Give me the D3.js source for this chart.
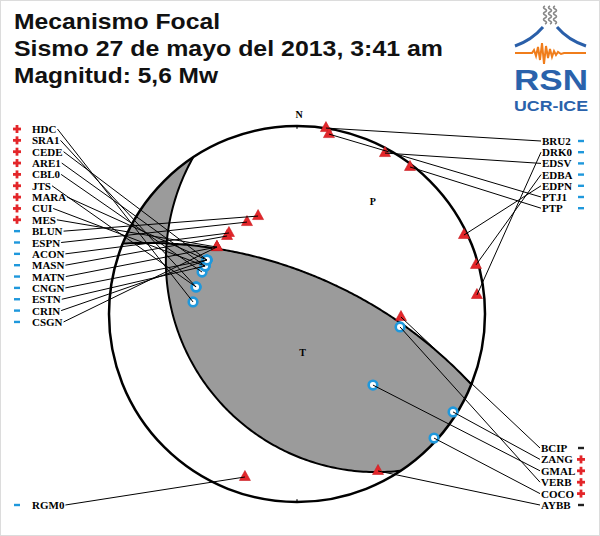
<!DOCTYPE html>
<html><head><meta charset="utf-8">
<script src="https://cdn.jsdelivr.net/npm/d3@7"></script>
<style>body{margin:0;background:#fff}svg{display:block}</style>
</head><body><svg id="c" width="600" height="536"></svg>
<script>
// ---------------- data ----------------
const titleLines = ["Mecanismo Focal", "Sismo 27 de mayo del 2013, 3:41 am", "Magnitud: 5,6 Mw"];
const planeStrike = [146.5, 292];
const planeDip = [27, 65];

// left column labels
const leftNames  = ["HDC","SRA1","CEDE","ARE1","CBL0","JTS","MARA","CUI","MES","BLUN","ESPN","ACON","MASN","MATN","CNGN","ESTN","CRIN","CSGN"];
const leftSigns  = ["+","+","+","+","+","+","+","+","+","-","-","-","-","-","-","-","-","-"];
const leftMarker = ["c","c","c","c","c","c","c","c","t","t","t","t","t","t","c","c","c","t"];
const leftMX = [-0.553,-0.537,-0.479,-0.489,-0.505,-0.537,-0.479,-0.489,-0.426,-0.207,-0.266,-0.362,-0.372,-0.426,-0.479,-0.489,-0.479,-0.426];
const leftMY = [ 0.064, 0.144, 0.287, 0.255, 0.223, 0.144, 0.287, 0.255, 0.356, 0.521, 0.489, 0.431, 0.415, 0.356, 0.287, 0.255, 0.287, 0.356];

// right top column
const rightNames  = ["BRU2","DRK0","EDSV","EDBA","EDPN","PTJ1","PTP"];
const rightSigns  = ["-","-","-","-","-","-","-"];
const rightMarker = ["t","t","t","t","t","t","t"];
const rightMX = [0.154,0.957,0.468,0.952,0.888,0.170,0.601];
const rightMY = [0.989,0.101,0.856,0.261,0.420,0.957,0.782];

// right bottom column
const lowNames  = ["BCIP","ZANG","GMAL","VERB","COCO","AYBB"];
const lowSigns  = ["0","+","+","+","+","0"];
const lowMarker = ["t","c","c","c","c","t"];
const lowMX = [0.553,0.830,0.404,0.548,0.729,0.431];
const lowMY = [-0.016,-0.521,-0.378,-0.069,-0.660,-0.835];

// bottom-left single label
const soloNames  = ["RGM0"];
const soloSigns  = ["-"];
const soloMarker = ["t"];
const soloMX = [-0.277];
const soloMY = [-0.867];

// ---------------- drawing ----------------
const svg = d3.select("#c");
const W = 600, H = 536, cx = 297, cy = 314, R = 188;
const x = d3.scaleLinear().domain([-1, 1]).range([cx - R, cx + R]);
const y = d3.scaleLinear().domain([-1, 1]).range([cy + R, cy - R]);
const rad = Math.PI / 180;
const RED = "#e3262a", BLUE = "#1f98dc";

svg.append("rect").attr("x",0.5).attr("y",0.5).attr("width",W-1).attr("height",H-1)
  .attr("fill","#fff").attr("stroke","#dcdcdc");

// stereographic lower hemisphere projection of a vector [n,e,d]
function proj(v) {
  let [n, e, d] = v;
  if (d < 0) { n = -n; e = -e; d = -d; }
  const L = Math.hypot(n, e, d); n /= L; e /= L; d /= L;
  const pl = Math.asin(Math.min(1, d)), tr = Math.atan2(e, n);
  const r = Math.tan((Math.PI / 2 - pl) / 2);
  return [r * Math.sin(tr), r * Math.cos(tr)];
}
function planePoints(s, dip) {
  const sv = [Math.cos(s*rad), Math.sin(s*rad), 0];
  const dv = [Math.cos((s+90)*rad)*Math.cos(dip*rad), Math.sin((s+90)*rad)*Math.cos(dip*rad), Math.sin(dip*rad)];
  const pts = [];
  for (let t = 0; t <= 180; t += 1) {
    const c = Math.cos(t*rad), sn = Math.sin(t*rad);
    pts.push(proj([c*sv[0]+sn*dv[0], c*sv[1]+sn*dv[1], c*sv[2]+sn*dv[2]]));
  }
  return pts;
}
function halfRegion(s, dip) {
  const pts = planePoints(s, dip);
  for (let u = 0; u <= 180; u += 1) {
    const az = (s + 180 - u) * rad;
    pts.push([Math.sin(az), Math.cos(az)]);
  }
  return pts;
}
function pole(s, dip) {
  const tr = (s + 90 + 180) * rad, pl = (90 - dip) * rad;
  return [Math.cos(pl)*Math.cos(tr), Math.cos(pl)*Math.sin(tr), Math.sin(pl)];
}
const disk = d3.range(0, 361, 1).map(a => [Math.sin(a*rad), Math.cos(a*rad)]);
const line = d3.line().x(d => x(d[0])).y(d => y(d[1]));

// shaded quadrants (even-odd of disk + two half regions)
svg.append("path")
  .attr("d", line(disk) + "Z" + line(halfRegion(planeStrike[0], planeDip[0])) + "Z" + line(halfRegion(planeStrike[1], planeDip[1])) + "Z")
  .attr("fill", "#9b9b9b").attr("fill-rule", "evenodd").attr("stroke", "none");

// nodal planes
planeStrike.forEach((s, i) => {
  svg.append("path").attr("d", line(planePoints(s, planeDip[i])))
    .attr("fill", "none").attr("stroke", "#000").attr("stroke-width", 2);
});
// primitive circle
svg.append("circle").attr("cx", x(0)).attr("cy", y(0)).attr("r", x(1) - x(0))
  .attr("fill", "none").attr("stroke", "#000").attr("stroke-width", 2.5);
// N/S ticks
svg.append("line").attr("x1", x(0)).attr("x2", x(0)).attr("y1", y(1)).attr("y2", y(0.985)).attr("stroke","#000").attr("stroke-width",1.2);
svg.append("line").attr("x1", x(0)).attr("x2", x(0)).attr("y1", y(-1)).attr("y2", y(-0.985)).attr("stroke","#000").attr("stroke-width",1.2);

// P and T axes
const n1 = pole(planeStrike[0], planeDip[0]), n2 = pole(planeStrike[1], planeDip[1]);
const Tax = proj([n1[0]+n2[0], n1[1]+n2[1], n1[2]+n2[2]]);
const Pax = proj([n1[0]-n2[0], n1[1]-n2[1], n1[2]-n2[2]]);
const serif = "'Liberation Serif','Times New Roman',serif";
[["P", Pax], ["T", Tax]].forEach(([lab, p]) => {
  svg.append("text").attr("x", x(p[0]) + 3).attr("y", y(p[1]) + 2).attr("text-anchor","middle")
    .attr("font-family", serif).attr("font-weight","bold").attr("font-size", 10).text(lab);
});
svg.append("text").attr("x", x(0) + 2).attr("y", y(1) - 8).attr("text-anchor","middle")
  .attr("font-family", serif).attr("font-weight","bold").attr("font-size", 10).text("N");

// stations
function group(names, signs, markers, mx, my, side, x0, y0, dy) {
  return names.map((n, i) => ({name: n, sign: signs[i], marker: markers[i], mx: mx[i], my: my[i], side, lx: x0, ly: y0 + i*dy}));
}
const stations = [].concat(
  group(leftNames, leftSigns, leftMarker, leftMX, leftMY, "L", 32, 129, 11.35),
  group(rightNames, rightSigns, rightMarker, rightMX, rightMY, "R", 542, 141, 11.2),
  group(lowNames, lowSigns, lowMarker, lowMX, lowMY, "R", 541, 448, 11.4),
  group(soloNames, soloSigns, soloMarker, soloMX, soloMY, "L", 32, 505, 0)
);

// markers
const mk = svg.append("g");
stations.forEach(d => {
  const px = x(d.mx), py = y(d.my);
  if (d.marker === "t") {
    mk.append("path").attr("d", `M${px},${py-6.5}L${px+5.5},${py+3.5}L${px-5.5},${py+3.5}Z`)
      .attr("fill", RED).attr("stroke", "#c81d22").attr("stroke-width", 0.6);
  } else {
    mk.append("circle").attr("cx", px).attr("cy", py).attr("r", 4.3)
      .attr("fill", "#fff").attr("stroke", BLUE).attr("stroke-width", 2.6);
  }
});

// labels, connector lines, polarity signs
const lg = svg.append("g");
const ln = svg.append("g");
stations.forEach(d => {
  const t = lg.append("text").attr("x", d.lx).attr("y", d.ly + 4)
    .attr("font-family", serif).attr("font-weight", "bold").attr("font-size", 11)
    .attr("fill", "#000").text(d.name);
  const w = t.node().getComputedTextLength();
  const sx = d.side === "L" ? d.lx + w + 1 : d.lx - 1;
  ln.append("line").attr("x1", sx).attr("y1", d.ly).attr("x2", x(d.mx)).attr("y2", y(d.my))
    .attr("stroke", "#000").attr("stroke-width", 1);
  const gx = d.side === "L" ? 17 : 581;
  if (d.sign === "+") {
    lg.append("rect").attr("x", gx-4).attr("y", d.ly-1.4).attr("width", 8).attr("height", 2.8).attr("fill", RED);
    lg.append("rect").attr("x", gx-1.4).attr("y", d.ly-4).attr("width", 2.8).attr("height", 8).attr("fill", RED);
  } else {
    lg.append("rect").attr("x", gx-3).attr("y", d.ly-1.2).attr("width", 6).attr("height", 2.4)
      .attr("fill", d.sign === "-" ? BLUE : "#222");
  }
});

// title
const sans = "'Liberation Sans',Arial,sans-serif";
const titleWidths = [206, 429, 204];
titleLines.forEach((s, i) => {
  svg.append("text").attr("x", 14).attr("y", 29 + i*27)
    .attr("font-family", sans).attr("font-weight", "bold").attr("font-size", 22).attr("fill", "#111")
    .attr("textLength", titleWidths[i]).attr("lengthAdjust", "spacingAndGlyphs").text(s);
});

// logo
const logo = svg.append("g");
[545, 550, 555].forEach(sx => {
  let p = `M${sx},24`;
  for (let k = 0; k < 3; k++) {
    const yy = 24 - k*6;
    p += ` Q${sx+3},${yy-1.5} ${sx},${yy-3} Q${sx-3},${yy-4.5} ${sx},${yy-6}`;
  }
  logo.append("path").attr("d", p).attr("fill","none").attr("stroke","#8a8a8a").attr("stroke-width",1.6);
});
logo.append("path").attr("d","M515,46 Q532,40 543,27").attr("fill","none").attr("stroke","#2a5fa9").attr("stroke-width",3);
logo.append("path").attr("d","M557,27 Q568,40 586,46").attr("fill","none").attr("stroke","#2a5fa9").attr("stroke-width",3);
logo.append("path").attr("d","M515,53 L532,53 L534,50 L536,56 L538,47 L540,60 L542,43 L544,64 L546,46 L548,58 L550,49 L552,57 L554,51 L556,55 L558,52 L561,54 L564,53 L586,53")
  .attr("fill","none").attr("stroke","#f07d1b").attr("stroke-width",2);
logo.append("text").attr("x",551).attr("y",90).attr("text-anchor","middle")
  .attr("font-family",sans).attr("font-weight","bold").attr("font-size",30).attr("fill","#2a62ab")
  .attr("textLength",74).attr("lengthAdjust","spacingAndGlyphs").text("RSN");
logo.append("text").attr("x",551).attr("y",111).attr("text-anchor","middle")
  .attr("font-family",sans).attr("font-weight","bold").attr("font-size",15).attr("fill","#2a62ab")
  .attr("textLength",74).attr("lengthAdjust","spacingAndGlyphs").text("UCR-ICE");
</script></body></html>
